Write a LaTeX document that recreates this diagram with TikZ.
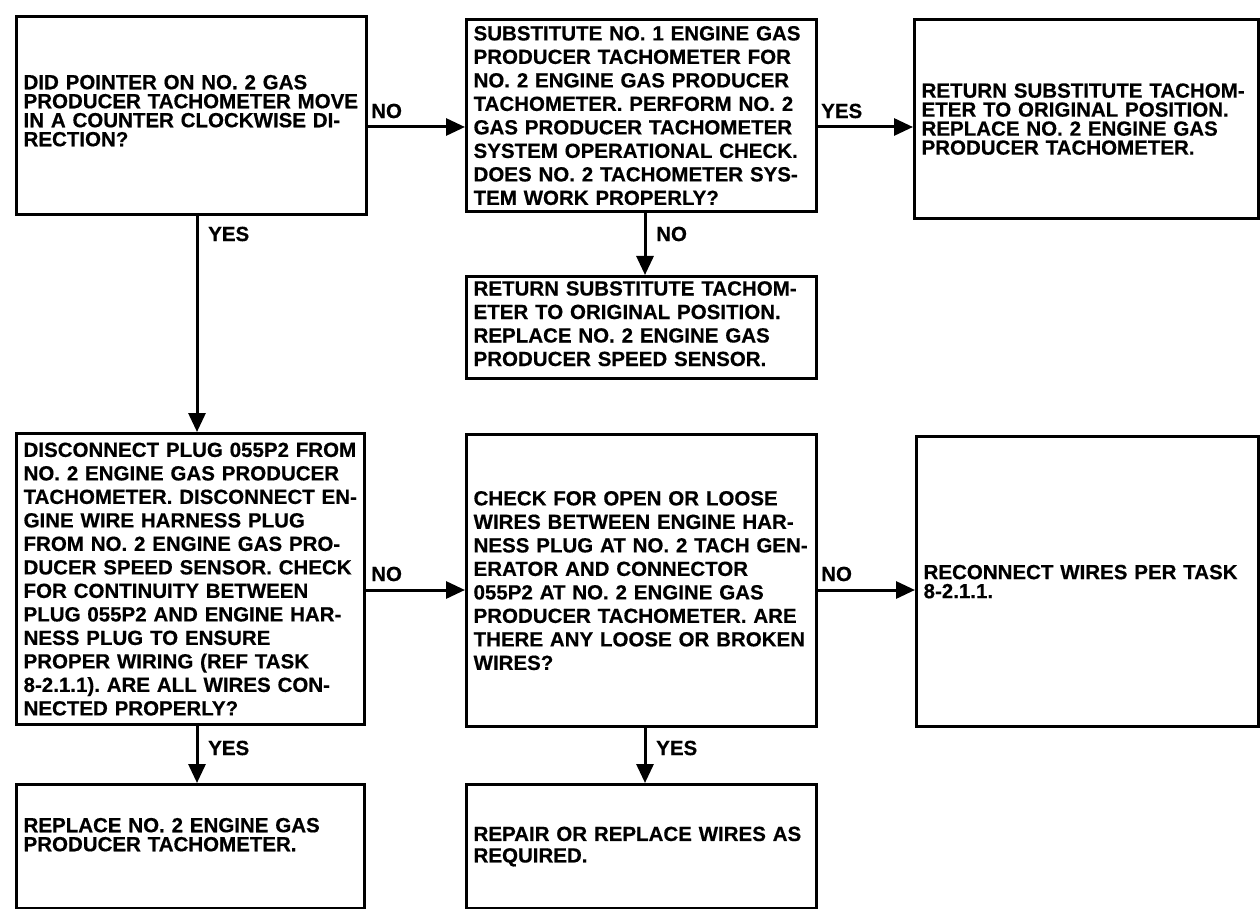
\documentclass[tikz,border=0pt]{standalone}
\usepackage{fontspec}
\setmainfont{Liberation Sans}[BoldFeatures={FakeBold=0.5}]
\usetikzlibrary{arrows.meta}
\frenchspacing
\begin{document}
\begin{tikzpicture}[x=1pt,y=-1pt,
  box/.style={draw,line width=3.2pt,anchor=north west,inner xsep=7pt,inner ysep=0pt,align=left,
    font=\fontsize{20.5}{19}\selectfont\bfseries\frenchspacing},
  dense/.style={font=\fontsize{20.5}{23.5}\selectfont\bfseries\frenchspacing},
  mid/.style={font=\fontsize{20.5}{21.5}\selectfont\bfseries\frenchspacing},
  lbl/.style={anchor=west,inner sep=0pt,font=\fontsize{20.5}{23.5}\selectfont\bfseries},
  arr/.style={line width=3pt,-{Triangle[length=19pt,width=17pt]}}]
\useasboundingbox (0,0) rectangle (1260,909);

\node[box, text width=336pt, minimum height=198pt] (A) at (15,15)
  {DID POINTER ON NO. 2 GAS\\PRODUCER TACHOMETER MOVE\\IN A COUNTER CLOCKWISE DI-\\RECTION?\\[-9pt]\mbox{}};
\node[box, dense, text width=336pt, minimum height=192pt] (B) at (465,18)
  {SUBSTITUTE NO. 1 ENGINE GAS\\PRODUCER TACHOMETER FOR\\NO. 2 ENGINE GAS PRODUCER\\TACHOMETER. PERFORM NO. 2\\GAS PRODUCER TACHOMETER\\SYSTEM OPERATIONAL CHECK.\\DOES NO. 2 TACHOMETER SYS-\\TEM WORK PROPERLY?};
\node[box, text width=330pt, minimum height=199pt] (C) at (913,18)
  {RETURN SUBSTITUTE TACHOM-\\ETER TO ORIGINAL POSITION.\\REPLACE NO. 2 ENGINE GAS\\PRODUCER TACHOMETER.};
\node[box, dense, text width=336pt, minimum height=102pt] (D) at (465,275)
  {RETURN SUBSTITUTE TACHOM-\\ETER TO ORIGINAL POSITION.\\REPLACE NO. 2 ENGINE GAS\\PRODUCER SPEED SENSOR.\\[-15.5pt]\mbox{}};
\node[box, dense, text width=334pt, minimum height=291pt] (E) at (15,432)
  {DISCONNECT PLUG 055P2 FROM\\NO. 2 ENGINE GAS PRODUCER\\TACHOMETER. DISCONNECT EN-\\GINE WIRE HARNESS PLUG\\FROM NO. 2 ENGINE GAS PRO-\\DUCER SPEED SENSOR. CHECK\\FOR CONTINUITY BETWEEN\\PLUG 055P2 AND ENGINE HAR-\\NESS PLUG TO ENSURE\\PROPER WIRING (REF TASK\\8-2.1.1). ARE ALL WIRES CON-\\NECTED PROPERLY?};
\node[box, dense, text width=336pt, minimum height=292pt] (F) at (465,433)
  {CHECK FOR OPEN OR LOOSE\\WIRES BETWEEN ENGINE HAR-\\NESS PLUG AT NO. 2 TACH GEN-\\ERATOR AND CONNECTOR\\055P2 AT NO. 2 ENGINE GAS\\PRODUCER TACHOMETER. ARE\\THERE ANY LOOSE OR BROKEN\\WIRES?};
\node[box, text width=328pt, minimum height=290pt] (G) at (915,435)
  {RECONNECT WIRES PER TASK\\8-2.1.1.};
\node[box, text width=334pt, minimum height=124pt] (H) at (15,783)
  {REPLACE NO. 2 ENGINE GAS\\PRODUCER TACHOMETER.\\[5pt]\mbox{}};
\node[box, mid, text width=336pt, minimum height=124pt] (I) at (465,783)
  {REPAIR OR REPLACE WIRES AS\\REQUIRED.};

\coordinate (h1) at (0,127);
\coordinate (h2) at (0,590);
\coordinate (v1) at (197,0);
\coordinate (v2) at (645,0);

\draw[arr] (A.east |- h1) -- (B.west |- h1);
\draw[arr] (B.east |- h1) -- (C.west |- h1);
\draw[arr] (A.south -| v1) -- (E.north -| v1);
\draw[arr] (B.south -| v2) -- (D.north -| v2);
\draw[arr] (E.east |- h2) -- (F.west |- h2);
\draw[arr] (F.east |- h2) -- (G.west |- h2);
\draw[arr] (E.south -| v1) -- (H.north -| v1);
\draw[arr] (F.south -| v2) -- (I.north -| v2);

\node[lbl] (l1) at (371,111) {NO};
\node[lbl] (l2) at (821,111) {YES};
\node[lbl] (l3) at (208,234) {YES};
\node[lbl] (l4) at (656,234) {NO};
\node[lbl] (l5) at (371,574) {NO};
\node[lbl] (l6) at (821,574) {NO};
\node[lbl] (l7) at (208,748) {YES};
\node[lbl] (l8) at (656,748) {YES};
\end{tikzpicture}
\end{document}
